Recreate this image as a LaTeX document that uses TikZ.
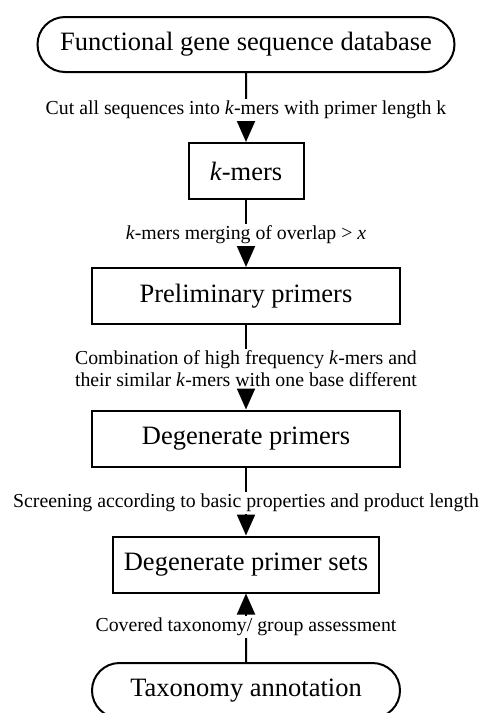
\documentclass[tikz,border=0pt]{standalone}
\usepackage{fontspec}
\setmainfont{Liberation Serif}
\usetikzlibrary{arrows.meta,shapes.misc}
\begin{document}
\begin{tikzpicture}[x=1pt,y=1pt,
  box/.style={draw,line width=2pt,rectangle,inner sep=0pt,minimum height=56pt,font=\fontsize{26.5}{30}\selectfont},
  term/.style={draw,line width=2pt,rounded rectangle,inner sep=0pt,minimum height=55pt,font=\fontsize{26.5}{30}\selectfont},
  lbl/.style={inner sep=2pt,align=center,font=\fontsize{19.8}{22}\selectfont},
  wire/.style={line width=2pt},
  conn/.style={line width=2pt,-{Triangle[width=18pt,length=21pt]}}]
\useasboundingbox (0,0) rectangle (485,-713);
\clip (0,0) rectangle (485,-713);
\node[term,minimum width=417pt] (db) at (246,-44.5) {Functional gene sequence database};
\node[box,minimum width=115pt] (km) at (246,-171) {\textit{k}-mers};
\node[box,minimum width=308pt] (pp) at (246,-296) {Preliminary primers};
\node[box,minimum width=308pt] (dp) at (246,-438.5) {Degenerate primers};
\node[box,minimum width=266pt] (ds) at (246,-564.5) {Degenerate primer sets};
\node[term,minimum width=308pt] (ta) at (246,-690.5) {Taxonomy annotation};
\node[lbl] (l1) at (246,-110) {Cut all sequences into \textit{k}-mers with primer length k};
\node[lbl] (l2) at (246,-235) {\textit{k}-mers merging of overlap > \textit{x}};
\node[lbl] (l3) at (246,-369) {Combination of high frequency \textit{k}-mers and\\their similar \textit{k}-mers with one base different};
\node[lbl] (l4) at (246,-503) {Screening according to basic properties and product length};
\node[lbl] (l5) at (246,-627) {Covered taxonomy/ group assessment};
\draw[wire] (db) -- (l1);
\draw[conn] (l1) -- (km);
\draw[wire] (km) -- (l2);
\draw[conn] (l2) -- (pp);
\draw[wire] (pp) -- (l3);
\draw[conn] (l3) -- (dp);
\draw[wire] (dp) -- (l4);
\draw[conn] (l4) -- (ds);
\draw[wire] (ta) -- (l5);
\draw[conn] (l5) -- (ds);
\end{tikzpicture}
\end{document}
